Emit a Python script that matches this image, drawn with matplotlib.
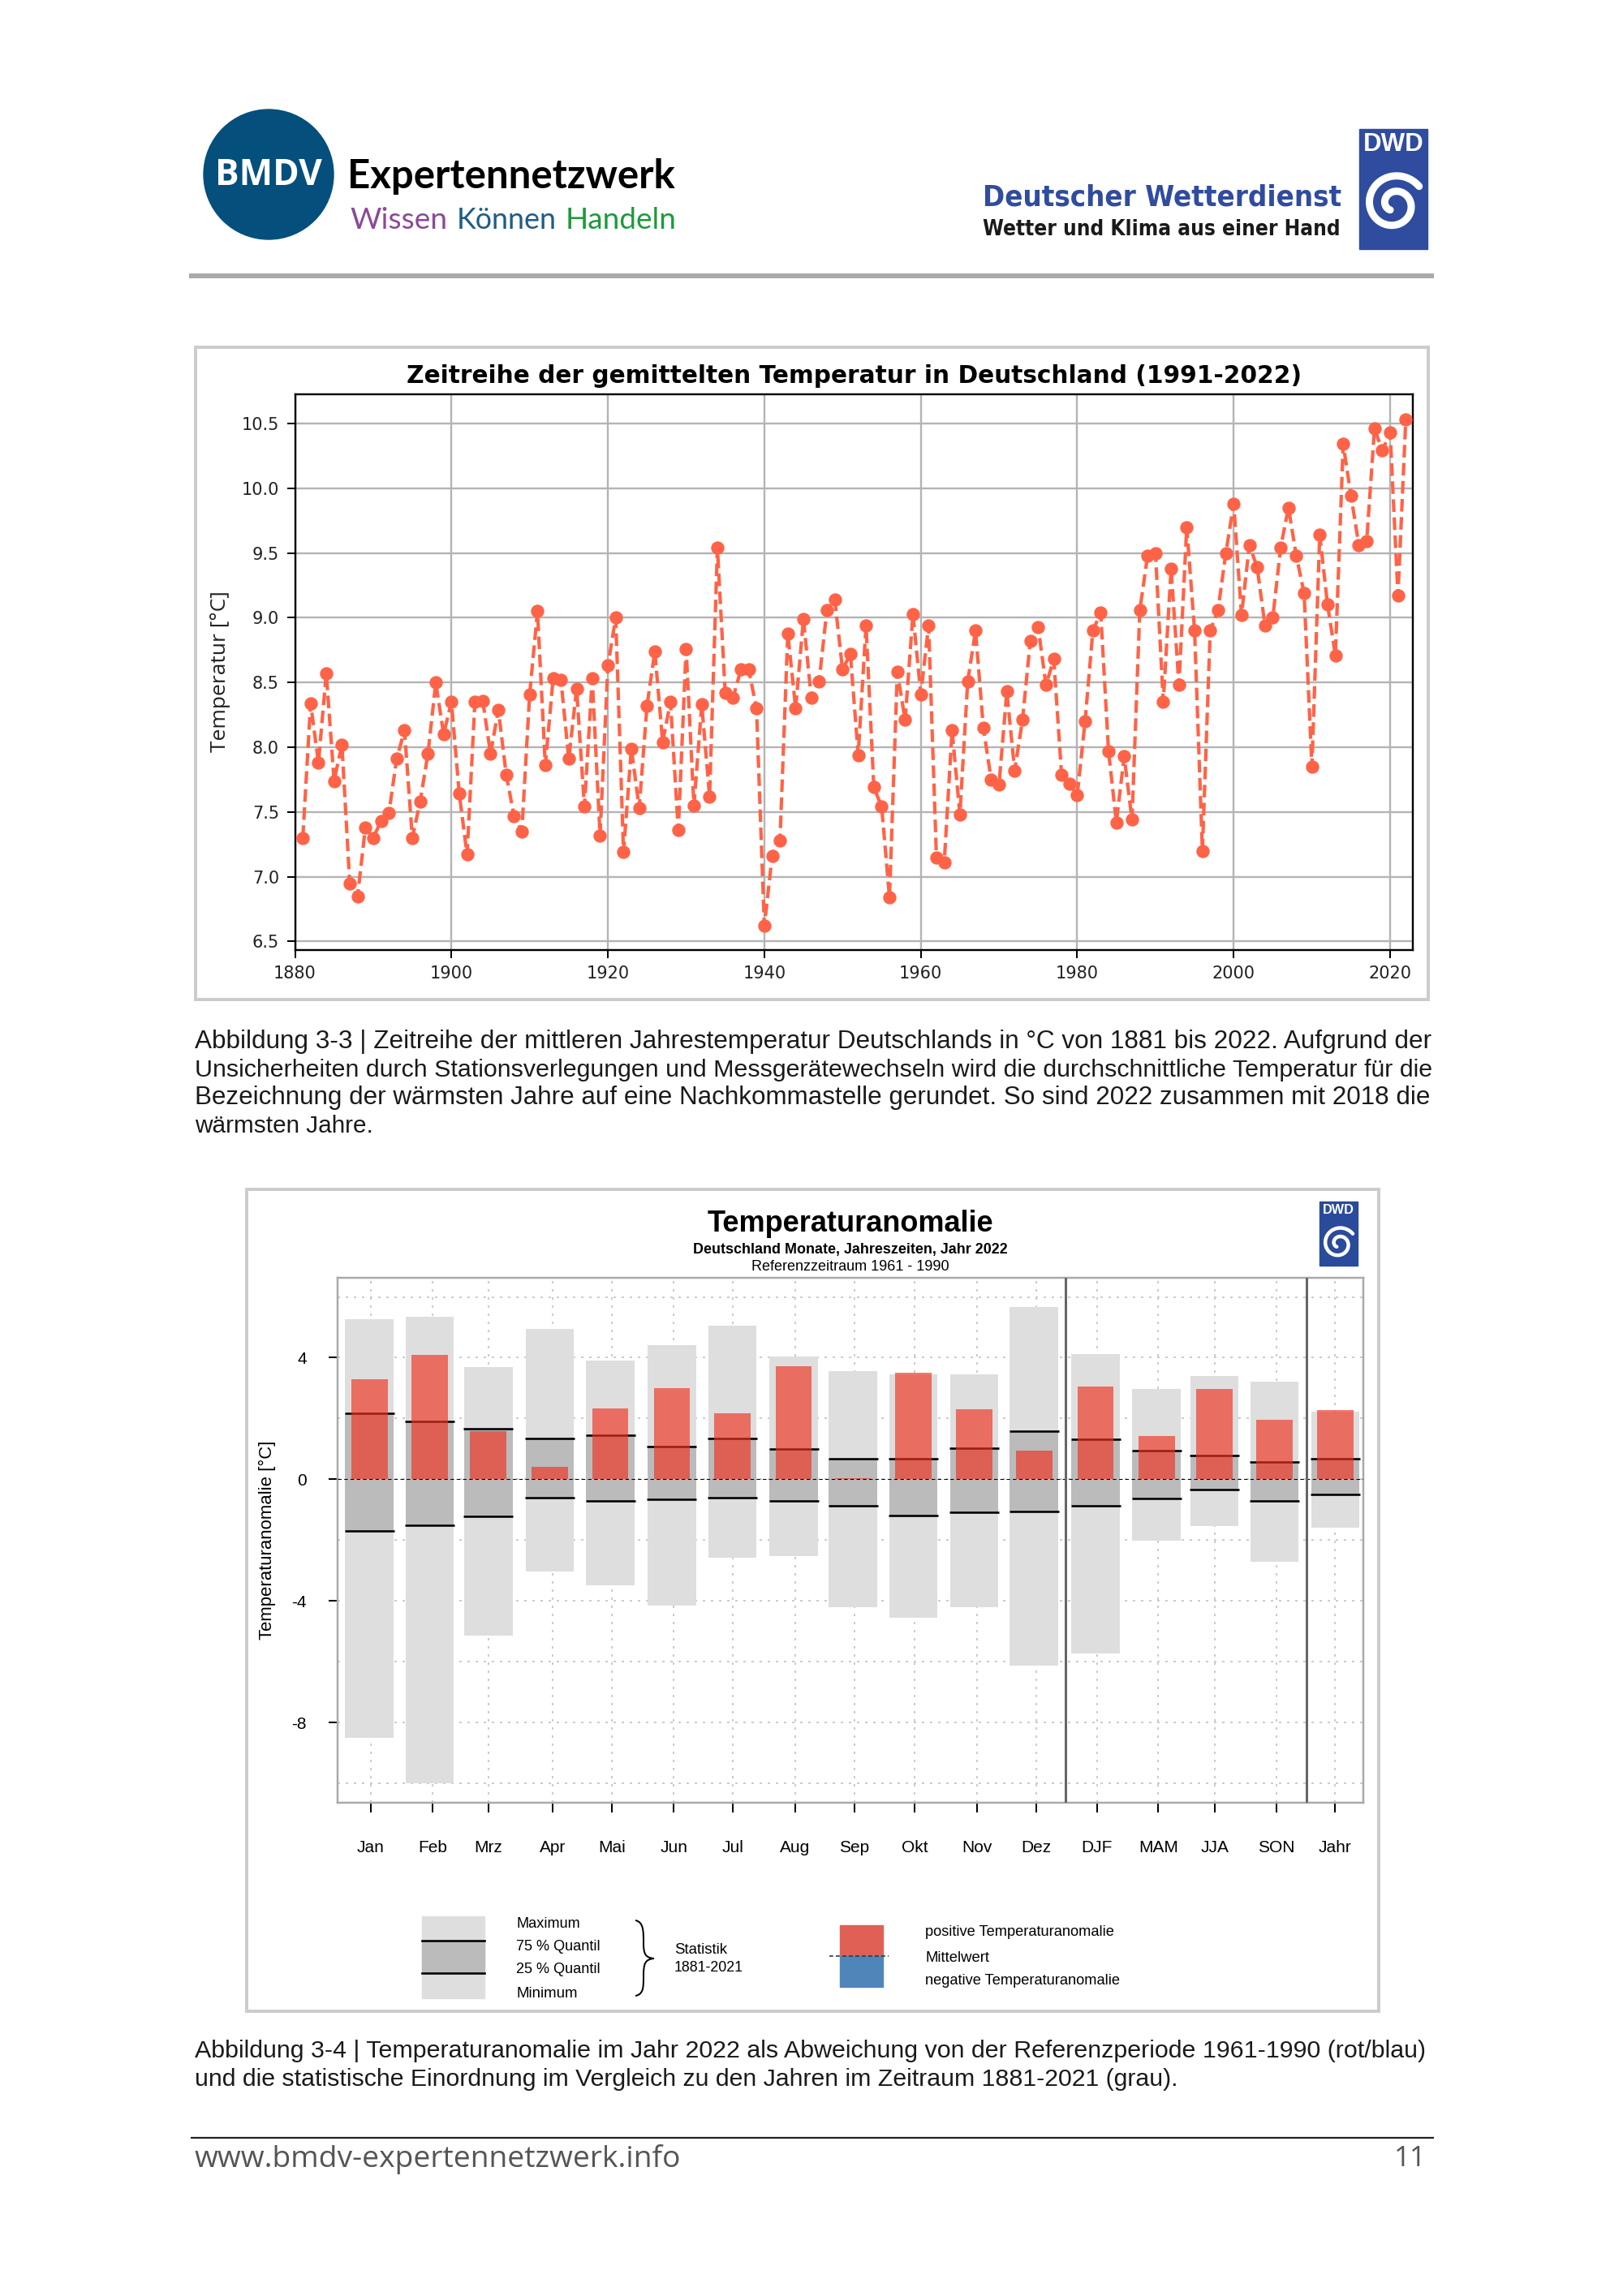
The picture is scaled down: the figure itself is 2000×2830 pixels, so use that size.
import numpy as np
import matplotlib
matplotlib.use("Agg")
import matplotlib.pyplot as plt
from matplotlib.patches import Rectangle, Circle, PathPatch
from matplotlib.path import Path

# ---------- Data ----------
first_year = 1881
temps = [7.30,8.34,7.88,8.57,7.74,8.02,6.95,6.85,7.38,7.30,7.43,7.49,7.91,8.13,7.30,7.58,7.95,8.50,8.10,8.35,
         7.64,7.17,8.35,8.36,7.95,8.29,7.79,7.47,7.35,8.41,9.05,7.86,8.53,8.52,7.91,8.45,7.54,8.53,7.32,8.63,
         9.00,7.19,7.99,7.53,8.32,8.74,8.04,8.35,7.36,8.76,7.55,8.33,7.62,9.54,8.42,8.38,8.60,8.60,8.30,6.62,
         7.16,7.28,8.88,8.30,8.99,8.38,8.51,9.06,9.14,8.60,8.72,7.94,8.94,7.69,7.54,6.84,8.58,8.21,9.03,8.41,
         8.94,7.15,7.11,8.13,7.48,8.51,8.90,8.15,7.75,7.71,8.43,7.82,8.21,8.82,8.93,8.48,8.68,7.79,7.72,7.63,
         8.20,8.90,9.04,7.97,7.42,7.93,7.44,9.06,9.48,9.50,8.35,9.38,8.48,9.70,8.90,7.20,8.90,9.06,9.50,9.88,
         9.02,9.56,9.39,8.94,9.00,9.54,9.85,9.48,9.19,7.85,9.64,9.10,8.71,10.34,9.94,9.56,9.59,10.46,10.29,10.43,
         9.17,10.53]
years = np.arange(first_year, first_year + len(temps))
year_ticks = [1880,1900,1920,1940,1960,1980,2000,2020]
temp_ticks = [6.5,7.0,7.5,8.0,8.5,9.0,9.5,10.0,10.5]

periods = ["Jan","Feb","Mrz","Apr","Mai","Jun","Jul","Aug","Sep","Okt","Nov","Dez","DJF","MAM","JJA","SON","Jahr"]
stat_max = [5.26,5.35,3.69,4.96,3.90,4.41,5.05,4.05,3.57,3.46,3.46,5.67,4.11,2.96,3.41,3.22,2.22]
stat_q75 = [2.17,1.91,1.66,1.34,1.44,1.09,1.35,0.99,0.67,0.67,1.02,1.59,1.32,0.95,0.79,0.57,0.69]
stat_q25 = [-1.69,-1.50,-1.23,-0.61,-0.72,-0.67,-0.60,-0.72,-0.86,-1.19,-1.09,-1.05,-0.86,-0.63,-0.34,-0.71,-0.50]
stat_min = [-8.49,-10.01,-5.15,-3.02,-3.49,-4.14,-2.57,-2.53,-4.21,-4.56,-4.21,-6.12,-5.74,-2.03,-1.53,-2.72,-1.59]
anomaly  = [3.28,4.09,1.59,0.41,2.32,3.00,2.18,3.71,0.04,3.50,2.30,0.95,3.05,1.43,2.96,1.96,2.28]
anom_ticks = [4,0,-4,-8]
anom_grid = [6,4,2,0,-2,-4,-6,-8,-10]

caption1 = [("Abbildung 3-3 | Zeitreihe der mittleren Jahrestemperatur Deutschlands in °C von 1881 bis 2022. Aufgrund der",1762,1284),
            ("Unsicherheiten durch Stationsverlegungen und Messgerätewechseln wird die durchschnittliche Temperatur für die",1762,1319),
            ("Bezeichnung der wärmsten Jahre auf eine Nachkommastelle gerundet. So sind 2022 zusammen mit 2018 die",1762,1353),
            ("wärmsten Jahre.",460,1388)]
caption2 = [("Abbildung 3-4 | Temperaturanomalie im Jahr 2022 als Abweichung von der Referenzperiode 1961-1990 (rot/blau)",1762,2528),
            ("und die statistische Einordnung im Vergleich zu den Jahren im Zeitraum 1881-2021 (grau).",1451,2563)]

# ---------- Page ----------
W, H = 2000, 2830
PT = 72 / 100  # points per pixel at dpi 100
fig = plt.figure(figsize=(W/100, H/100), dpi=100, facecolor="white")
bg = fig.add_axes([0, 0, 1, 1], zorder=0)
bg.set_xlim(0, W); bg.set_ylim(H, 0); bg.axis("off")
rend = fig.canvas.get_renderer()

def fit(x0, x1, y, s, family="Liberation Sans", weight="normal", color="black", stretch="normal", z=5):
    t = bg.text(x0, y, s, family=family, weight=weight, color=color, stretch=stretch,
                fontsize=20, va="center", ha="left", zorder=z)
    for _ in range(3):
        w = t.get_window_extent(rend).width
        t.set_fontsize(t.get_fontsize() * (x1 - x0) / w)
    return t

def axes_px(l, t, r, b, z=2):
    return fig.add_axes([l/W, 1-b/H, (r-l)/W, (b-t)/H], zorder=z)

def box(l, t, r, b, **kw):
    bg.add_patch(Rectangle((l, t), r-l, b-t, **kw))

def spiral(cx, cy, rad, lw):
    th = np.linspace(0, 3.1*np.pi, 200)
    r = rad * (0.22 + 0.78*th/th[-1])
    bg.plot(cx + r*np.cos(th + 2.2), cy + r*np.sin(th + 2.2), color="white", lw=lw, solid_capstyle="round", zorder=6)

# Header
bg.add_patch(Circle((331, 215), 80, color="#044F7C", zorder=3))
fit(265, 397, 216, "BMDV", family="Open Sans", weight="bold", color="white")
fit(428, 831, 218, "Expertennetzwerk", family="Lato", weight="bold")
fit(431, 551, 271, "Wissen", family="Lato", color="#8B4A97")
fit(563, 686, 271, "Können", family="Lato", color="#1F5C87")
fit(697, 834, 271, "Handeln", family="Lato", color="#1E9A3C")
fit(1211, 1653, 243, "Deutscher Wetterdienst", family="DejaVu Sans", weight="bold", stretch="condensed", color="#2F4C9F")
fit(1211, 1653, 283, "Wetter und Klima aus einer Hand", family="DejaVu Sans", weight="bold", stretch="condensed", color="#1A1A1A")
box(1675, 159, 1759, 307, color="#2F4C9F", zorder=3)
fit(1680, 1755, 178, "DWD", family="Liberation Sans", weight="bold", color="white")
spiral(1718, 252, 38, 9*PT)
bg.plot([233, 1767], [340, 340], color="#AAAAAA", lw=6*PT, solid_capstyle="butt")

# Panels
box(241, 428, 1760, 1232, fc="white", ec="#CCCCCC", lw=4*PT, zorder=1)
box(304, 1466, 1699, 2479, fc="white", ec="#CCCCCC", lw=4*PT, zorder=1)

# ---------- Chart 1 ----------
ax = axes_px(363.5, 486, 1741, 1170.5)
ax.set_xlim(1880, 2022.9); ax.set_ylim(6.437, 10.725)
ax.plot(years, temps, color="#FF6347", ls="--", lw=4.2*PT, marker="o", ms=15*PT, mec="#FF6347", zorder=3)
ax.set_xticks(year_ticks); ax.set_yticks(temp_ticks)
ax.set_yticklabels([f"{v:.1f}" for v in temp_ticks])
ax.grid(True, color="#B4B4B4", lw=2.4*PT)
ax.set_axisbelow(True)
ax.tick_params(labelsize=15, length=7*PT*1.4, width=2*PT, pad=7, color="black", labelcolor="#222222")
for s in ax.spines.values():
    s.set_linewidth(2.4*PT); s.set_color("black")
fit(501, 1601, 463, "Zeitreihe der gemittelten Temperatur in Deutschland (1991-2022)", family="DejaVu Sans", weight="bold")
bg.text(272, 828, "Temperatur [°C]", rotation=90, ha="center", va="center", fontsize=19,
        family="Open Sans", color="#222222", zorder=5)

# Captions
for line, x1, y in caption1 + caption2:
    fit(240, x1, y, line, color="#1A1A1A")

# ---------- Chart 2 ----------
ax2 = axes_px(415.7, 1575.3, 1680.4, 2221.7)
ax2.set_xlim(-0.531, 16.47); ax2.set_ylim(-10.63, 6.62)
# bar centres and ticks sit slightly irregularly along the axis in the reference
bar_x = np.array([0, 1.0, 1.97, 2.99, 3.99, 5.01, 6.01, 7.03, 8.01, 9.01, 10.02, 11.01, 12.03, 13.04, 14.0, 14.99, 16.0])
tick_x = np.array([0.02, 1.05, 1.97, 3.03, 4.02, 5.04, 6.02, 7.05, 8.03, 9.03, 10.06, 11.05, 12.05, 13.07, 14.0, 15.03, 16.0])
bw, rw = 0.80, 0.60
smax, smin = np.array(stat_max), np.array(stat_min)
q75, q25 = np.array(stat_q75), np.array(stat_q25)
ax2.bar(bar_x, smax - smin, bottom=smin, width=bw, color="#DEDEDE", zorder=2)
ax2.bar(bar_x, q75 - q25, bottom=q25, width=bw, color="#BBBBBB", zorder=2.1)
ax2.hlines(q75, bar_x - 0.41, bar_x + 0.41, color="black", lw=2.6*PT, zorder=2.2)
ax2.hlines(q25, bar_x - 0.41, bar_x + 0.41, color="black", lw=2.6*PT, zorder=2.2)
ax2.bar(bar_x, anomaly, width=rw, color="#F2301F", alpha=0.65, zorder=2.5)
ax2.axhline(0, color="black", lw=1.1*PT, ls=(0, (4, 3)), zorder=3)
ax2.axvline(11.53, color="#666666", lw=3*PT, zorder=3)
ax2.axvline(15.52, color="#666666", lw=3*PT, zorder=3)
for v in anom_grid:
    ax2.axhline(v, color="#CCCCCC", lw=2*PT, ls=(0, (1.5, 3.5)), zorder=1)
for v in tick_x:
    ax2.axvline(v, color="#CCCCCC", lw=2*PT, ls=(0, (1.5, 3.5)), zorder=1)
ax2.set_xticks(tick_x); ax2.set_xticklabels(periods, family="Liberation Sans", fontsize=15)
ax2.set_yticks(anom_ticks); ax2.set_yticklabels([str(v) for v in anom_ticks], family="Liberation Sans", fontsize=15)
ax2.tick_params(axis="x", length=12*PT, width=2*PT, pad=34*PT)
ax2.tick_params(axis="y", length=11*PT, width=2*PT, pad=27*PT)
for s in ax2.spines.values():
    s.set_linewidth(2.5*PT); s.set_color("#AAAAAA")

fit(872, 1224, 1508, "Temperaturanomalie", weight="bold")
fit(854, 1241, 1540, "Deutschland Monate, Jahreszeiten, Jahr 2022", weight="bold")
fit(926, 1170, 1561, "Referenzzeitraum 1961 - 1990")
bg.text(329, 1898, "Temperaturanomalie [°C]", rotation=90, ha="center", va="center",
        fontsize=15.9, family="Liberation Sans", zorder=5)
box(1626, 1481, 1673, 1560, color="#2A4B9B", zorder=3)
fit(1630, 1669, 1492, "DWD", weight="bold", color="white")
spiral(1650, 1533, 21, 4.5*PT)

# Legend of chart 2
box(520, 2362, 597, 2463, color="#DEDEDE", zorder=3)
box(520, 2392, 597, 2432, color="#BBBBBB", zorder=3)
bg.plot([520, 597], [2392, 2392], color="black", lw=2.6*PT, zorder=4)
bg.plot([520, 597], [2432, 2432], color="black", lw=2.6*PT, zorder=4)
fit(636, 715, 2372, "Maximum")
fit(636, 740, 2400, "75 % Quantil")
fit(636, 740, 2428, "25 % Quantil")
fit(636, 711, 2458, "Minimum")
brace = Path([(783, 2367), (793, 2369), (793, 2380), (793, 2395), (793, 2408), (795, 2413), (806, 2414),
              (795, 2415), (793, 2420), (793, 2435), (793, 2450), (793, 2458), (783, 2460)],
             [Path.MOVETO] + [Path.CURVE4]*12)
bg.add_patch(PathPatch(brace, fc="none", ec="black", lw=2*PT, zorder=4))
fit(831, 896, 2404, "Statistik")
fit(831, 916, 2425, "1881-2021")
box(1035, 2373, 1088, 2411, color="#E06055", zorder=3)
box(1035, 2411, 1088, 2449, color="#4F86BA", zorder=3)
bg.plot([1022, 1095], [2411, 2411], color="#333333", lw=1.6*PT, ls=(0, (3, 2)), zorder=4)
fit(1140, 1372, 2381, "positive Temperaturanomalie")
fit(1140, 1219, 2413, "Mittelwert")
fit(1140, 1380, 2442, "negative Temperaturanomalie")

# Footer
bg.plot([235, 1767], [2635, 2635], color="#222222", lw=2.2*PT, solid_capstyle="butt")
fit(240, 839, 2661, "www.bmdv-expertennetzwerk.info", family="Open Sans", color="#555555")
bg.text(1758, 2661, "11", family="Open Sans", color="#555555", fontsize=25, ha="right", va="center")

fig.savefig("out.png", dpi=100, facecolor="white")
